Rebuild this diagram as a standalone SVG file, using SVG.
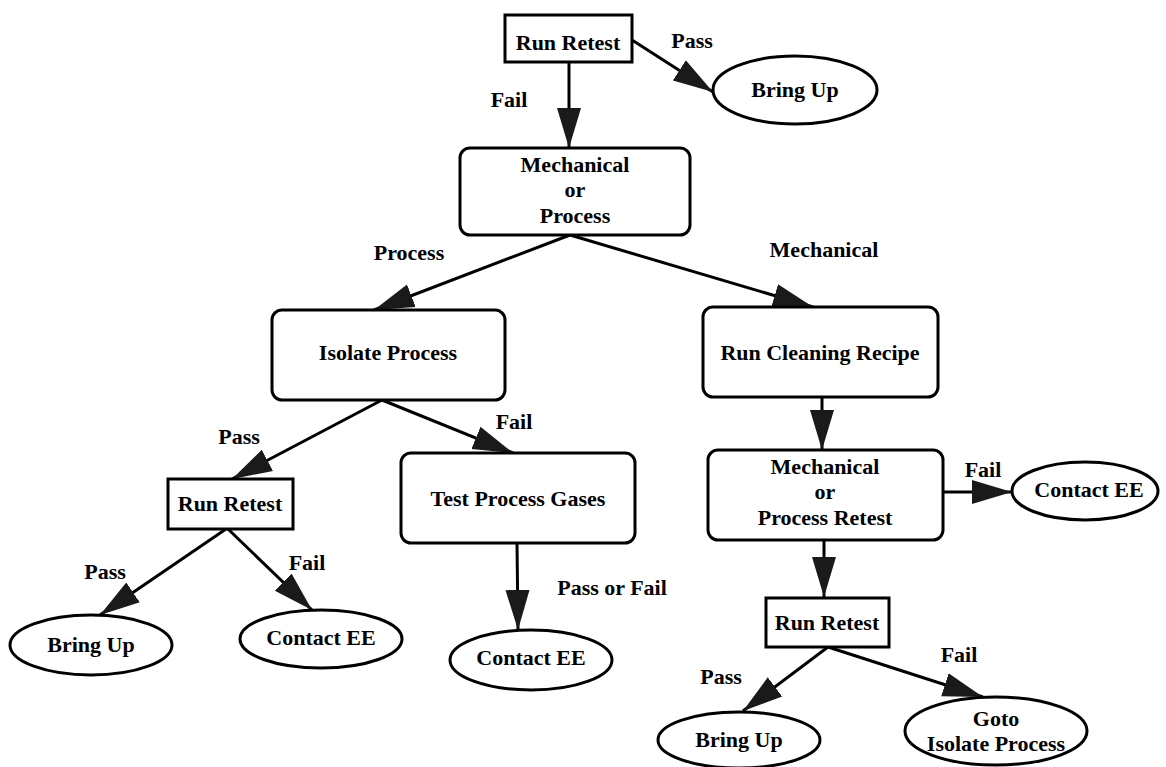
<svg xmlns="http://www.w3.org/2000/svg" width="1166" height="767" viewBox="0 0 1166 767">
<defs>
<style>
.bx{fill:#fff;stroke:#000;stroke-width:3}
.el{fill:#fff;stroke:#000;stroke-width:3}
.t{font-family:"Liberation Serif","Times New Roman",serif;font-weight:bold;font-size:22px;fill:#000;text-anchor:middle}
.ln{stroke:#000;stroke-width:3;fill:none;marker-end:url(#ah)}
</style>
<marker id="ah" markerUnits="userSpaceOnUse" markerWidth="42" markerHeight="26" refX="40" refY="13" orient="auto">
<path d="M0,1 L40,13 L0,25 Z" fill="#1a1a1a"/>
</marker>
</defs>
<rect width="1166" height="767" fill="#fff"/>
<g id="connectors">
<line class="ln" x1="632" y1="40" x2="713" y2="92"/>
<line class="ln" x1="569" y1="62" x2="569" y2="148"/>
<line class="ln" x1="570" y1="235" x2="374" y2="310"/>
<line class="ln" x1="570" y1="235" x2="813" y2="307"/>
<line class="ln" x1="382" y1="400" x2="232" y2="479"/>
<line class="ln" x1="382" y1="400" x2="513" y2="453"/>
<line class="ln" x1="226" y1="529" x2="100" y2="615"/>
<line class="ln" x1="228" y1="529" x2="312" y2="610"/>
<line class="ln" x1="517" y1="543" x2="518" y2="630"/>
<line class="ln" x1="822" y1="397" x2="822" y2="450"/>
<line class="ln" x1="943" y1="492" x2="1012" y2="492"/>
<line class="ln" x1="824" y1="540" x2="824" y2="597"/>
<line class="ln" x1="828" y1="647" x2="743" y2="711"/>
<line class="ln" x1="828" y1="647" x2="983" y2="697"/>
<text class="t" x="692" y="48">Pass</text>
<text class="t" x="509" y="107">Fail</text>
<text class="t" x="409" y="260">Process</text>
<text class="t" x="824" y="257">Mechanical</text>
<text class="t" x="239" y="444">Pass</text>
<text class="t" x="514" y="429">Fail</text>
<text class="t" x="105" y="579">Pass</text>
<text class="t" x="307" y="570">Fail</text>
<text class="t" x="612" y="595">Pass or Fail</text>
<text class="t" x="983" y="477">Fail</text>
<text class="t" x="721" y="684">Pass</text>
<text class="t" x="959" y="662">Fail</text>
</g>
<g id="n_retest_top">
<rect class="bx" x="505" y="15" width="127" height="47"/>
<text class="t" x="568" y="50">Run Retest</text>
</g>
<g id="n_bringup_top">
<ellipse class="el" cx="795" cy="90" rx="82" ry="34"/>
<text class="t" x="795" y="97">Bring Up</text>
</g>
<g id="n_mech_or_proc">
<rect class="bx" x="460" y="148" width="230" height="87" rx="10"/>
<text class="t" x="575" y="172">Mechanical</text>
<text class="t" x="575" y="197">or</text>
<text class="t" x="575" y="223">Process</text>
</g>
<g id="n_isolate">
<rect class="bx" x="272" y="310" width="233" height="90" rx="10"/>
<text class="t" x="388" y="360">Isolate Process</text>
</g>
<g id="n_cleaning">
<rect class="bx" x="703" y="307" width="235" height="90" rx="10"/>
<text class="t" x="820" y="360">Run Cleaning Recipe</text>
</g>
<g id="n_retest_left">
<rect class="bx" x="168" y="479" width="125" height="50"/>
<text class="t" x="230" y="511">Run Retest</text>
</g>
<g id="n_gases">
<rect class="bx" x="401" y="453" width="234" height="90" rx="10"/>
<text class="t" x="518" y="506">Test Process Gases</text>
</g>
<g id="n_mech_proc_retest">
<rect class="bx" x="708" y="450" width="235" height="90" rx="10"/>
<text class="t" x="825" y="474">Mechanical</text>
<text class="t" x="825" y="499">or</text>
<text class="t" x="825" y="525">Process Retest</text>
</g>
<g id="n_contact_right">
<ellipse class="el" cx="1085" cy="491" rx="73" ry="29"/>
<text class="t" x="1089" y="497">Contact EE</text>
</g>
<g id="n_bringup_left">
<ellipse class="el" cx="91" cy="645" rx="81" ry="30"/>
<text class="t" x="91" y="652">Bring Up</text>
</g>
<g id="n_contact_left">
<ellipse class="el" cx="321" cy="639" rx="81" ry="29"/>
<text class="t" x="321" y="645">Contact EE</text>
</g>
<g id="n_contact_mid">
<ellipse class="el" cx="531" cy="660" rx="81" ry="30"/>
<text class="t" x="531" y="665">Contact EE</text>
</g>
<g id="n_retest_right">
<rect class="bx" x="766" y="598" width="123" height="49"/>
<text class="t" x="827" y="630">Run Retest</text>
</g>
<g id="n_bringup_right">
<ellipse class="el" cx="739" cy="740" rx="81" ry="28"/>
<text class="t" x="739" y="747">Bring Up</text>
</g>
<g id="n_goto">
<ellipse class="el" cx="996" cy="731" rx="91" ry="34"/>
<text class="t" x="996" y="726">Goto</text>
<text class="t" x="996" y="751">Isolate Process</text>
</g>
</svg>
